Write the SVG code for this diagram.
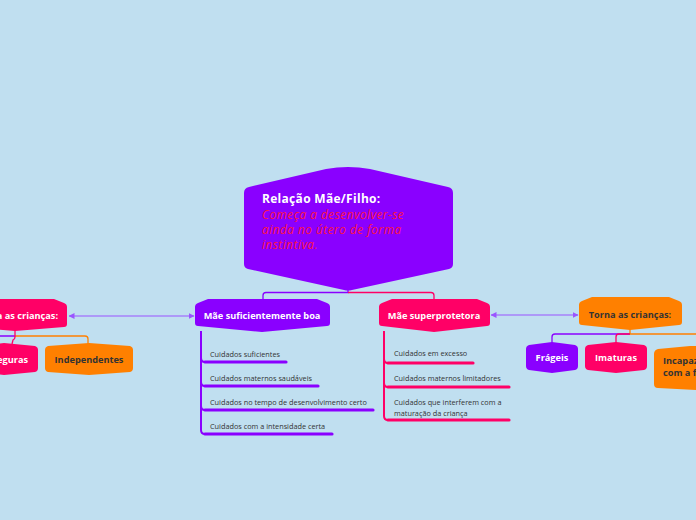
<svg xmlns="http://www.w3.org/2000/svg" width="696" height="520" viewBox="0 0 696 520">
<defs>
<marker id="ah" viewBox="0 0 6 6" refX="5.5" refY="3" markerWidth="6" markerHeight="6" orient="auto-start-reverse" markerUnits="userSpaceOnUse">
<path d="M0,0 L6,3 L0,6 Z" fill="#9a55ff"/>
</marker>
</defs>
<style>
.purple{fill:#8a00ff}
.pink{fill:#ff0066}
.orange{fill:#ff8000}
.ttl{font-family:"Open Sans","Noto Sans",sans-serif;font-weight:bold;font-size:9.2px;text-anchor:middle}
.w{fill:#ffffff}
.d{fill:#333333}
.sm{font-family:"Open Sans","Noto Sans",sans-serif;font-size:7.3px;fill:#333333}
.cp{fill:none;stroke:#8a00ff;stroke-width:1.3}
.cpk{fill:none;stroke:#ff0066;stroke-width:1.3}
.co{fill:none;stroke:#ff8000;stroke-width:1.3}
.rel{fill:none;stroke:#9a55ff;stroke-width:1.2;marker-start:url(#ah);marker-end:url(#ah)}
.vp{fill:none;stroke:#8a00ff;stroke-width:2}
.vk{fill:none;stroke:#ff0066;stroke-width:2}
.up{fill:none;stroke:#8a00ff;stroke-width:3.2;stroke-linecap:round}
.uk{fill:none;stroke:#ff0066;stroke-width:3.2;stroke-linecap:round}
</style>
<rect width="696" height="520" fill="#c0dff0"/>

<g id="connectors">
<path class="cp" d="M348,289 L348,292.5 L266,292.5 Q263,292.5 263,295.5 L263,300"/>
<path class="cpk" d="M348,292.5 L431,292.5 Q434,292.5 434,295.5 L434,300"/>
<path class="rel" d="M69,316 L194,316"/>
<path class="rel" d="M491,315 L578,315"/>
<path class="cp" d="M630,334 L555,334 Q552,334 552,337 L552,343"/>
<path class="co" d="M630,329 L630,334 L700,334"/>
<path class="cpk" d="M630,334 L619,334 Q616,334 616,337 L616,343"/>
<path class="cp" d="M15,336 L-20,336"/>
<path class="co" d="M15,336 L85,336 Q88,336 88,339 L88,344"/>
<path class="cpk" d="M15,330 L15,337 Q15,339 13,340 L12,344"/>
<path class="vp" d="M201,331 L201,430 Q201,434 205,434"/>
<path class="vp" d="M201,358 Q201,362 205,362"/>
<path class="vp" d="M201,382 Q201,386 205,386"/>
<path class="vp" d="M201,406 Q201,410 205,410"/>
<path class="up" d="M205,362 L286,362"/>
<path class="up" d="M205,386 L318,386"/>
<path class="up" d="M205,410 L373,410"/>
<path class="up" d="M205,434 L332,434"/>
<path class="vk" d="M384,331 L384,416 Q384,420 388,420"/>
<path class="vk" d="M384,359 Q384,363 388,363"/>
<path class="vk" d="M384,383 Q384,387 388,387"/>
<path class="uk" d="M388,363 L473,363"/>
<path class="uk" d="M388,387 L509,387"/>
<path class="uk" d="M388,420 L509,420"/>
</g>

<g id="main">
<path class="purple" d="M244,193 Q244,188 249,187 L326,169 Q348,165 370,169 L448,187 Q453,188 453,193 L453,264 Q453,268 449,269 L352,290 Q348,291 344,290 L248,269 Q244,268 244,264 Z"/>
<text x="262" y="202.5" font-family="'Open Sans','Noto Sans',sans-serif" font-weight="bold" font-size="12" letter-spacing="0.3" fill="#ffffff">Relação Mãe/Filho:</text>
<text font-family="'Open Sans','Noto Sans',sans-serif" font-style="italic" font-size="11.8" letter-spacing="0.5" fill="#ff1744">
<tspan x="262" y="219">Começa a desenvolver-se</tspan>
<tspan x="262" y="234">ainda no útero de forma</tspan>
<tspan x="262" y="249">instintiva.</tspan>
</text>
</g>

<g id="mae-suficiente">
<path class="purple" d="M195,307 Q195,304 198,303 L208,299 L317,299 L327,303 Q330,304 330,307 L330,323 Q330,326 327,326 L262,332 L198,326 Q195,326 195,323 Z"/>
<text class="ttl w" x="262" y="318.5">Mãe suficientemente boa</text>
</g>

<g id="mae-superprotetora">
<path class="pink" d="M379,307 Q379,304 382,303 L392,299 L477,299 L487,303 Q490,304 490,307 L490,323 Q490,326 487,326 L434,332 L382,326 Q379,326 379,323 Z"/>
<text class="ttl w" x="434" y="318.5">Mãe superprotetora</text>
</g>

<g id="torna-right">
<path class="orange" d="M579,305 Q579,302 582,301 L592,297 L669,297 L679,301 Q682,302 682,305 L682,322 Q682,325 679,325 L630,330 L582,325 Q579,325 579,322 Z"/>
<text class="ttl d" x="630" y="317.5">Torna as crianças:</text>
</g>

<g id="torna-left">
<path class="pink" d="M-40,307 Q-40,304 -37,303 L-27,299 L54,299 L64,303 Q67,304 67,307 L67,324 Q67,327 64,327 L15,331 L-37,327 Q-40,327 -40,324 Z"/>
<text class="ttl w" x="58" y="318.5" style="text-anchor:end">Torna as crianças:</text>
</g>

<g id="inseguras">
<path class="pink" d="M-30,350 Q-30,347 -27,346 L4,343 L35,346 Q38,347 38,350 L38,368 Q38,371 35,372 L4,375 L-27,372 Q-30,371 -30,368 Z"/>
<text class="ttl w" x="28" y="362.5" style="text-anchor:end">Inseguras</text>
</g>

<g id="independentes">
<path class="orange" d="M45,350 Q45,347 48,346 L89,343 L130,346 Q133,347 133,350 L133,368 Q133,371 130,372 L89,375 L48,372 Q45,371 45,368 Z"/>
<text class="ttl d" x="89" y="362.5">Independentes</text>
</g>

<g id="frageis">
<path class="purple" d="M526,349 Q526,346 529,345 L552,342 L575,345 Q578,346 578,349 L578,366 Q578,369 575,370 L552,373 L529,370 Q526,369 526,366 Z"/>
<text class="ttl w" x="552" y="361">Frágeis</text>
</g>

<g id="imaturas">
<path class="pink" d="M585,349 Q585,346 588,345 L616,342 L644,345 Q647,346 647,349 L647,366 Q647,369 644,370 L616,373 L588,370 Q585,369 585,366 Z"/>
<text class="ttl w" x="616" y="361">Imaturas</text>
</g>

<g id="incapazes">
<path class="orange" d="M654,354 Q654,350 658,349 L690,346 L730,346 L730,392 L658,388 Q654,388 654,384 Z"/>
<text font-family="'Open Sans','Noto Sans',sans-serif" font-weight="bold" font-size="9.2" fill="#333333">
<tspan x="663" y="364">Incapazes de lidar</tspan>
<tspan x="663" y="376">com a frustração</tspan>
</text>
</g>

<g id="itens-suficiente">
<text class="sm" x="210" y="357">Cuidados suficientes</text>
<text class="sm" x="210" y="381">Cuidados maternos saudáveis</text>
<text class="sm" x="210" y="405">Cuidados no tempo de desenvolvimento certo</text>
<text class="sm" x="210" y="429">Cuidados com a intensidade certa</text>
</g>

<g id="itens-superprotetora">
<text class="sm" x="394" y="356">Cuidados em excesso</text>
<text class="sm" x="394" y="381">Cuidados maternos limitadores</text>
<text class="sm" x="394" y="405">Cuidados que interferem com a</text>
<text class="sm" x="394" y="416">maturação da criança</text>
</g>
</svg>
